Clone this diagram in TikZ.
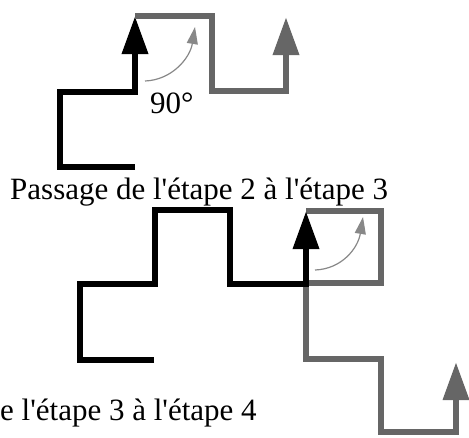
\documentclass[tikz,border=0pt]{standalone}
\usepackage{fontspec}
\setmainfont{Liberation Serif}[Ligatures=TeXOff]
\usetikzlibrary{arrows.meta}
\definecolor{pathgray}{RGB}{102,102,102}
\definecolor{turngray}{RGB}{136,136,136}
\begin{document}
\begin{tikzpicture}[x=1pt,y=-1pt,
  blackpath/.style={draw=black,line width=6.5pt,line join=miter,-{Triangle[length=38pt,width=25pt]}},
  graypath/.style={draw=pathgray,line width=6.5pt,line join=miter,-{Triangle[length=38pt,width=25pt]}},
  turnarrow/.style={draw=turngray,line width=1.2pt,-{Triangle[length=17pt,width=11pt]}},
  caption/.style={font=\fontsize{31}{37}\selectfont,inner sep=0pt,anchor=base west}]
\useasboundingbox (0,0) rectangle (469,437);
% top figure: step 2 -> step 3
\coordinate (a0) at (135,167);
\coordinate (a1) at (60,167);
\coordinate (a2) at (60,92);
\coordinate (a3) at (135,92);
\coordinate (a4) at (135,16);
\coordinate (b1) at (212,16);
\coordinate (b2) at (212,91);
\coordinate (b3) at (286,91);
\coordinate (b4) at (286,17);
\draw[blackpath] (a0) -- (a1) -- (a2) -- (a3) -- (a4);
\draw[graypath] (a4) -- (b1) -- (b2) -- (b3) -- (b4);
\coordinate (t0) at (145,81);
\coordinate (t1) at (195,27);
\draw[turnarrow] (t0) .. controls (172,80) and (190,58) .. (t1);
\node[caption] (angle) at (150,113) {90°};
\node[caption] (cap1) at (10,199) {Passage de l'étape 2 à l'étape 3};
% bottom figure: step 3 -> step 4
\coordinate (c0) at (154,360);
\coordinate (c1) at (80,360);
\coordinate (c2) at (80,284);
\coordinate (c3) at (155,284);
\coordinate (c4) at (155,210);
\coordinate (c5) at (230,210);
\coordinate (c6) at (230,284);
\coordinate (c7) at (306,284);
\coordinate (c8) at (306,211);
\coordinate (d1) at (381,211);
\coordinate (d2) at (381,283);
\coordinate (d3) at (306,283);
\coordinate (d4) at (306,359);
\coordinate (d5) at (381,359);
\coordinate (d6) at (381,432);
\coordinate (d7) at (456,432);
\coordinate (d8) at (456,362);
\draw[graypath] (c8) -- (d1) -- (d2) -- (d3) -- (d4) -- (d5) -- (d6) -- (d7) -- (d8);
\draw[blackpath] (c0) -- (c1) -- (c2) -- (c3) -- (c4) -- (c5) -- (c6) -- (c7) -- (c8);
\coordinate (u0) at (315,270);
\coordinate (u1) at (363,217);
\draw[turnarrow] (u0) .. controls (342,269) and (358,248) .. (u1);
\node[caption] (cap2) at (0,420) {e l'étape 3 à l'étape 4};
\end{tikzpicture}
\end{document}
